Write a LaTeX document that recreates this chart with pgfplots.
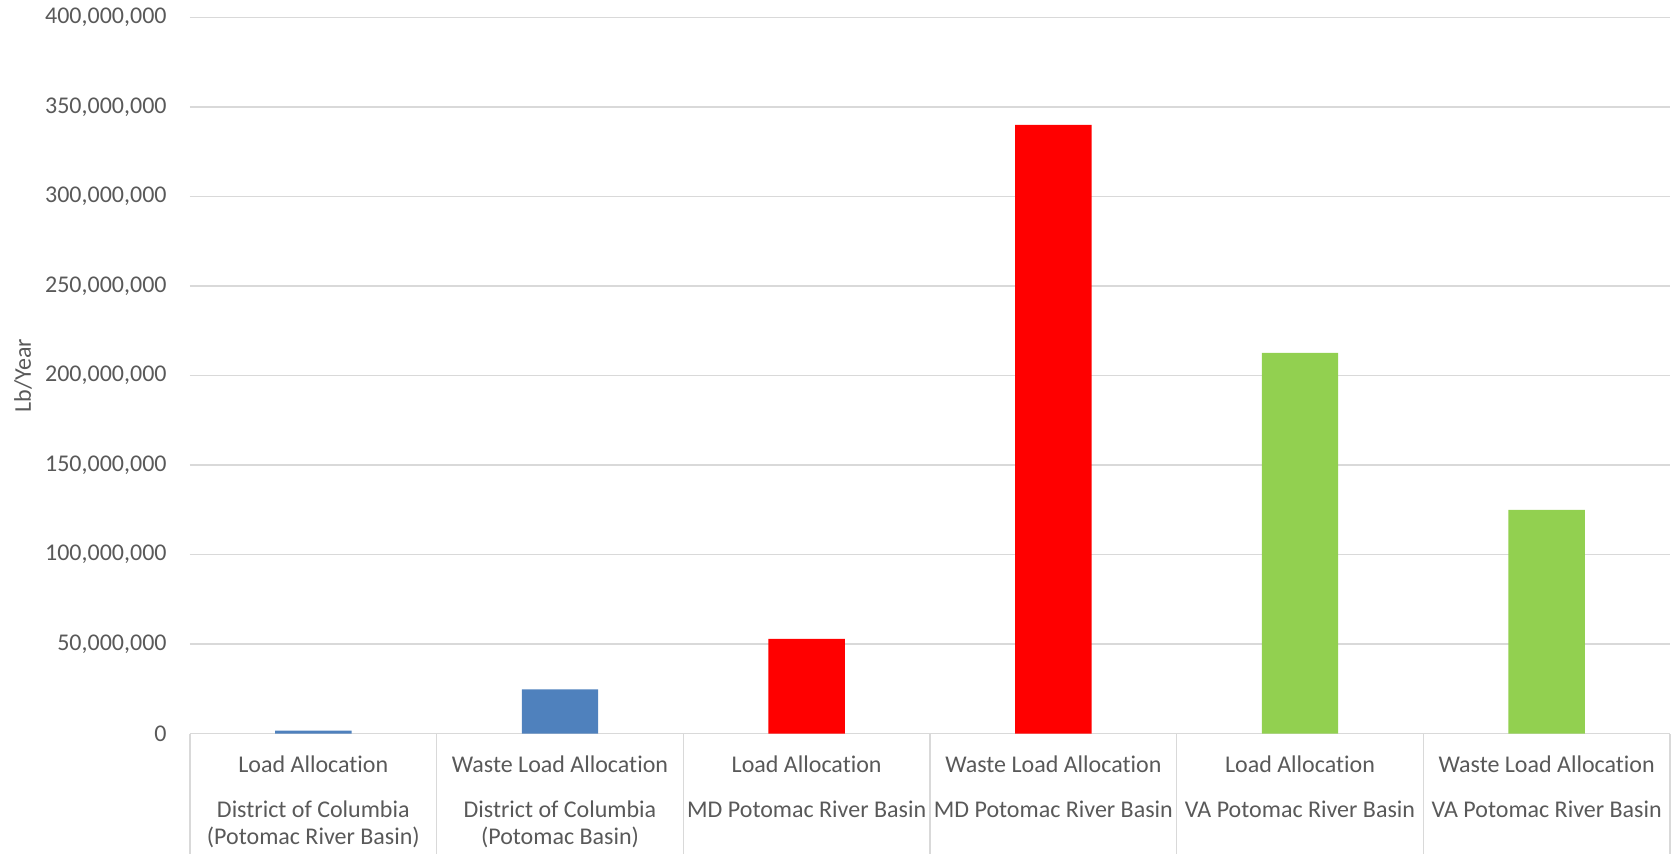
\documentclass[border=0pt]{standalone}
\usepackage{pgfplots}
\pgfplotsset{compat=1.18}
\usepackage{fontspec}
\setmainfont{Carlito}[Ligatures=NoCommon]
\definecolor{txtgray}{HTML}{595959}
\definecolor{gridgray}{HTML}{D9D9D9}
\definecolor{cblue}{HTML}{4F81BD}
\definecolor{cred}{HTML}{FF0000}
\definecolor{cgreen}{HTML}{92D050}
\begin{document}
\begin{tikzpicture}
\useasboundingbox (-95pt,-59.75pt) rectangle (742.5pt,366.75pt);
\begin{axis}[
  at={(0,0)}, anchor=south west,
  scale only axis, width=740pt, height=358pt,
  xmin=-0.5, xmax=5.5, ymin=0, ymax=400000000,
  axis x line*=bottom, axis y line*=left,
  x axis line style={draw=gridgray, line width=0.75pt, -},
  y axis line style={draw=none},
  xtick={0,1,2,3,4,5},
  xticklabels={
    {Load Allocation\\[9pt]District of Columbia\\(Potomac River Basin)},
    {Waste Load Allocation\\[9pt]District of Columbia\\(Potomac Basin)},
    {Load Allocation\\[9pt]MD Potomac River Basin},
    {Waste Load Allocation\\[9pt]MD Potomac River Basin},
    {Load Allocation\\[9pt]VA Potomac River Basin},
    {Waste Load Allocation\\[9pt]VA Potomac River Basin}},
  xticklabel style={anchor=north, inner sep=0pt, yshift=-11pt, align=center,
    font=\fontsize{12}{13.5}\selectfont, text=txtgray},
  major tick length=0pt,
  extra x ticks={-0.5,0.5,1.5,2.5,3.5,4.5,5.5},
  extra x tick labels={},
  extra x tick style={major tick length=62pt, tick align=outside,
    tick style={draw=gridgray, line width=0.75pt}, grid=none},
  ytick={0,50000000,100000000,150000000,200000000,250000000,300000000,350000000,400000000},
  scaled y ticks=false,
  /pgf/number format/fixed,
  /pgf/number format/precision=0,
  /pgf/number format/1000 sep={,},
  /pgf/number format/assume math mode=true,
  yticklabel style={anchor=east, inner sep=0pt, xshift=-11.5pt,
    font=\fontsize{12}{14}\selectfont, text=txtgray},
  y tick style={draw=none},
  ymajorgrids, grid style={draw=gridgray, line width=0.65pt},
  ylabel={Lb/Year},
  ylabel style={at={(axis description cs:-0.1128,0.5)}, anchor=center,
    font=\fontsize{12}{14}\selectfont, text=txtgray},
  clip=false,
]
\addplot[ybar, bar width=0.31, fill=cblue, draw=none] coordinates {(0,1600000) (1,24700000)};
\addplot[ybar, bar width=0.31, fill=cred, draw=none] coordinates {(2,52900000) (3,340000000)};
\addplot[ybar, bar width=0.31, fill=cgreen, draw=none] coordinates {(4,212600000) (5,124900000)};
\end{axis}
\end{tikzpicture}
\end{document}
